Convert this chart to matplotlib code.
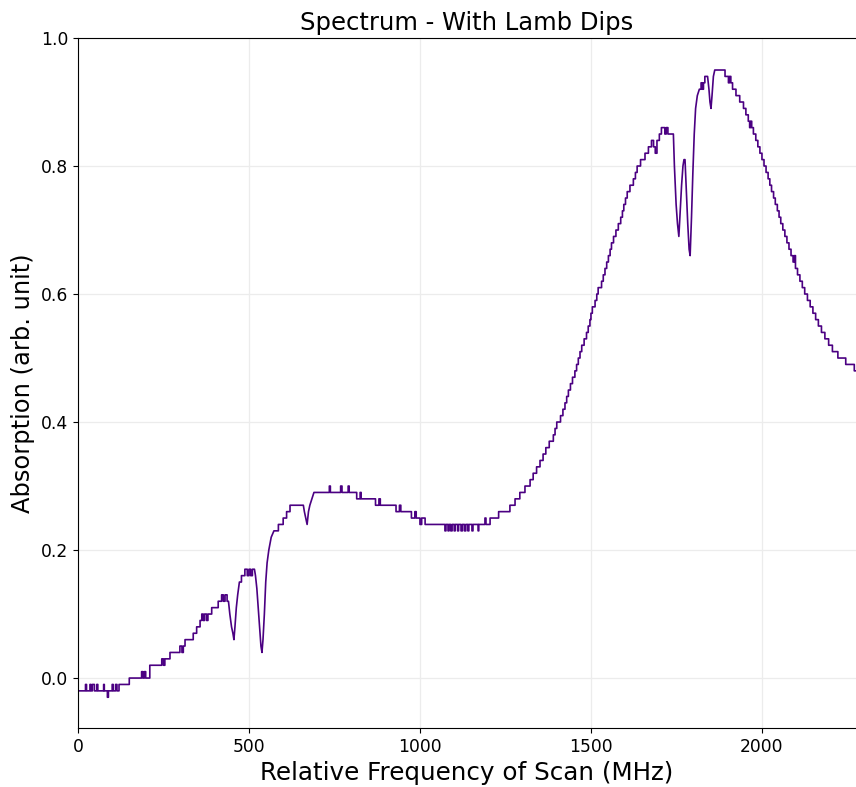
import matplotlib
matplotlib.use('Agg')
import matplotlib.pyplot as plt
import numpy as np

# releve du spectre : (frequence MHz, absorption), par morceaux
# les morceaux "marches" sont quantifies (paliers), les "creux" sont traces en ligne
debut = [(0, -0.02), (22, -0.01), (25, -0.02), (35, -0.01), (38, -0.02), (42, -0.01),
         (48, -0.02), (55, -0.01), (58, -0.02), (75, -0.01), (77, -0.02), (86, -0.03),
         (89, -0.02), (100, -0.01), (103, -0.02), (110, -0.01), (114, -0.02),
         (120, -0.01), (150, 0.00), (186, 0.01), (190, 0.00), (194, 0.01), (198, 0.00),
         (210, 0.02), (245, 0.03), (250, 0.02), (254, 0.03), (269, 0.04), (298, 0.05),
         (304, 0.04), (308, 0.05), (313, 0.06), (337, 0.07), (347, 0.08), (357, 0.09),
         (362, 0.10), (366, 0.09), (370, 0.10), (376, 0.09), (380, 0.10), (391, 0.11),
         (410, 0.12), (420, 0.13), (425, 0.12), (430, 0.13), (436, 0.12), (440, 0.12)]
creux_a = [(444, 0.10), (449, 0.08), (453, 0.07), (456, 0.06), (459, 0.08), (463, 0.11),
           (467, 0.13), (472, 0.15)]
bosse = [(472, 0.15), (478, 0.16), (488, 0.17), (495, 0.16), (500, 0.17), (505, 0.16),
         (510, 0.17), (516, 0.17)]
creux_b = [(519, 0.16), (523, 0.14), (527, 0.11), (531, 0.08), (535, 0.05), (538, 0.04),
           (541, 0.06), (545, 0.10), (549, 0.15), (553, 0.18), (558, 0.20), (565, 0.22),
           (573, 0.23)]
epaule = [(573, 0.23), (586, 0.24), (600, 0.25), (610, 0.26), (620, 0.27), (659, 0.27)]
creux_c = [(662, 0.26), (666, 0.25), (670, 0.24), (674, 0.26), (678, 0.27), (684, 0.28),
           (690, 0.29)]
plateau = [(690, 0.29), (735, 0.30), (738, 0.29), (768, 0.30), (772, 0.29), (790, 0.30),
           (793, 0.29), (815, 0.28), (825, 0.29), (828, 0.28), (870, 0.27), (880, 0.28),
           (884, 0.27), (930, 0.26), (940, 0.27), (944, 0.26), (975, 0.25), (985, 0.26),
           (989, 0.25), (1000, 0.24), (1005, 0.25), (1015, 0.24), (1073, 0.23),
           (1076, 0.24), (1082, 0.23), (1085, 0.24), (1090, 0.23), (1094, 0.24),
           (1100, 0.23), (1103, 0.24), (1110, 0.23), (1113, 0.24), (1120, 0.23),
           (1124, 0.24), (1130, 0.23), (1134, 0.24), (1140, 0.23), (1143, 0.24),
           (1152, 0.23), (1155, 0.24), (1170, 0.23), (1172, 0.24), (1190, 0.25),
           (1193, 0.24), (1205, 0.25)]
montee = [(1230, 0.26), (1263, 0.27), (1278, 0.28), (1292, 0.29), (1307, 0.30),
          (1322, 0.31), (1331, 0.32), (1341, 0.33), (1351, 0.34), (1360, 0.35),
          (1368, 0.36), (1378, 0.37), (1390, 0.38), (1395, 0.39), (1400, 0.40),
          (1411, 0.41), (1418, 0.42), (1424, 0.43), (1429, 0.44), (1434, 0.45),
          (1440, 0.46), (1446, 0.47), (1453, 0.48), (1458, 0.49), (1463, 0.50),
          (1468, 0.51), (1473, 0.52), (1480, 0.53), (1487, 0.54), (1492, 0.55),
          (1497, 0.56), (1500, 0.57), (1504, 0.58), (1512, 0.59), (1517, 0.60),
          (1521, 0.61), (1531, 0.62), (1536, 0.63), (1541, 0.64), (1546, 0.65),
          (1551, 0.66), (1556, 0.67), (1560, 0.68), (1566, 0.69), (1573, 0.70),
          (1580, 0.71), (1587, 0.72), (1592, 0.73), (1596, 0.74), (1601, 0.75),
          (1606, 0.76), (1614, 0.77), (1624, 0.78), (1630, 0.79), (1635, 0.80),
          (1645, 0.81), (1658, 0.82), (1668, 0.83), (1677, 0.84), (1683, 0.83),
          (1688, 0.82), (1693, 0.84), (1700, 0.85), (1706, 0.86), (1716, 0.85),
          (1720, 0.86), (1725, 0.85), (1741, 0.85)]
creux_d = [(1744, 0.80), (1749, 0.74), (1753, 0.71), (1757, 0.69), (1761, 0.73),
           (1765, 0.77), (1769, 0.80), (1772, 0.81), (1775, 0.81), (1779, 0.76),
           (1783, 0.71), (1787, 0.67), (1790, 0.66), (1794, 0.72), (1798, 0.79),
           (1802, 0.85), (1806, 0.89), (1811, 0.91), (1817, 0.92)]
sommet = [(1817, 0.92), (1822, 0.93), (1826, 0.92), (1829, 0.93), (1833, 0.94),
          (1841, 0.94)]
creux_e = [(1845, 0.92), (1848, 0.90), (1851, 0.89), (1854, 0.91), (1858, 0.94),
           (1862, 0.95)]
descente = [(1862, 0.95), (1892, 0.94), (1902, 0.93), (1905, 0.94), (1909, 0.93),
            (1914, 0.92), (1924, 0.91), (1935, 0.90), (1946, 0.89), (1953, 0.88),
            (1960, 0.87), (1964, 0.86), (1967, 0.87), (1970, 0.86), (1975, 0.85),
            (1982, 0.84), (1988, 0.83), (1994, 0.82), (2000, 0.81), (2006, 0.80),
            (2012, 0.79), (2018, 0.78), (2023, 0.77), (2028, 0.76), (2034, 0.75),
            (2039, 0.74), (2045, 0.73), (2050, 0.72), (2055, 0.71), (2061, 0.70),
            (2067, 0.69), (2073, 0.68), (2079, 0.67), (2085, 0.66), (2091, 0.65),
            (2095, 0.66), (2098, 0.64), (2104, 0.63), (2111, 0.62), (2118, 0.61),
            (2125, 0.60), (2133, 0.59), (2141, 0.58), (2149, 0.57), (2157, 0.56),
            (2165, 0.55), (2174, 0.54), (2184, 0.53), (2195, 0.52), (2206, 0.51),
            (2222, 0.50), (2245, 0.49), (2270, 0.48), (2290, 0.48)]

morceaux = [(debut, True), (creux_a, False), (bosse, True), (creux_b, False),
            (epaule, True), (creux_c, False), (plateau + montee, True),
            (creux_d, False), (sommet, True), (creux_e, False), (descente, True)]


def trace(points, marches):
    x = np.array([p[0] for p in points], float)
    y = np.array([p[1] for p in points], float)
    if marches:     # paliers : on garde le niveau jusqu'au point suivant
        x = np.repeat(x, 2)[1:]
        y = np.repeat(y, 2)[:-1]
    return x, y


xs, ys = [], []
for pts, marches in morceaux:
    x, y = trace(pts, marches)
    xs.append(x)
    ys.append(y)
freq_mhz = np.concatenate(xs)
absorption = np.concatenate(ys)

fig = plt.figure(figsize=(8.56, 7.87), dpi=100)
ax = fig.add_axes([0.0911, 0.075, 0.9089, 0.8767])

ax.plot(freq_mhz, absorption, color='#4b0082', linewidth=1.2)

ax.set_xlim(0, 2275)
ax.set_ylim(-0.078, 1.0)
ax.set_xticks([0, 500, 1000, 1500, 2000])
ax.set_yticks([0.0, 0.2, 0.4, 0.6, 0.8, 1.0])
ax.tick_params(labelsize=12.3)
ax.grid(True, color='#ececec', linewidth=0.9)
ax.set_axisbelow(True)
ax.spines['right'].set_visible(False)

ax.set_title('Spectrum - With Lamb Dips', fontsize=17.5)
ax.set_xlabel('Relative Frequency of Scan (MHz)', fontsize=17.7)
ax.set_ylabel('Absorption (arb. unit)', fontsize=17.4)

fig.savefig('out.png', dpi=100)
